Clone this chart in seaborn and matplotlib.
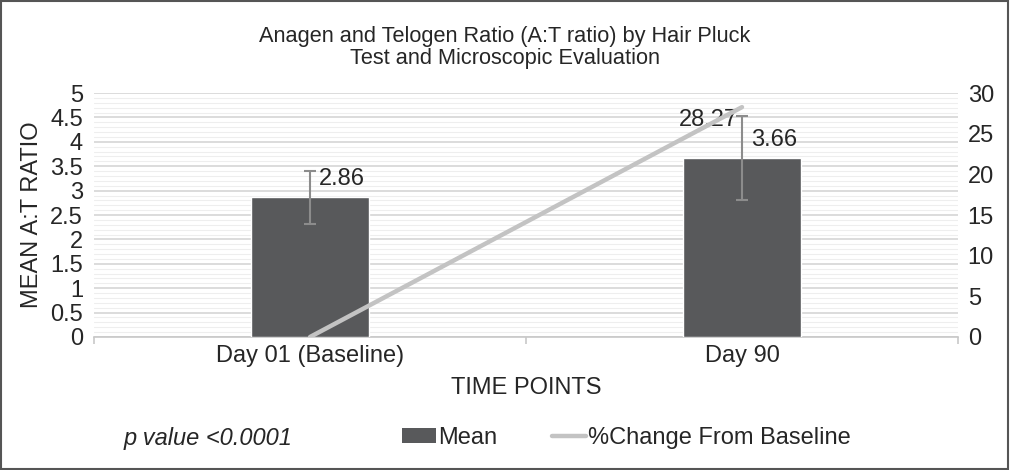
import matplotlib
matplotlib.use("Agg")
import matplotlib.pyplot as plt
import seaborn as sns
import pandas as pd
import numpy as np
from matplotlib.patches import Patch, Rectangle
from matplotlib.lines import Line2D
from matplotlib.ticker import MultipleLocator, FixedLocator

categories = ["Day 01 (Baseline)", "Day 90"]
mean_ratio = [2.86, 3.66]
mean_err = [0.54, 0.86]
pct_change = [0.0, 28.27]
left_ticks = [0, 0.5, 1, 1.5, 2, 2.5, 3, 3.5, 4, 4.5, 5]
left_ticklabels = ["0", "0.5", "1", "1.5", "2", "2.5", "3", "3.5", "4", "4.5", "5"]
right_ticks = [0, 5, 10, 15, 20, 25, 30]

sns.set_theme(style="white")
plt.rcParams['font.family'] = ['Liberation Sans', 'DejaVu Sans']
TXT = "#262626"
BAR = "#58595b"
LINEC = "#c3c3c3"
ERRC = "#8c8c8c"
FS = 17

fig = plt.figure(figsize=(10.1, 4.7), dpi=100)
ax = fig.add_axes([0.0931, 0.283, 0.8554, 0.519])

df = pd.DataFrame({"cat": categories, "mean": mean_ratio})
sns.barplot(data=df, x="cat", y="mean", color=BAR, width=0.273, saturation=1,
            errorbar=None, ax=ax, zorder=3)
ax.errorbar(range(len(categories)), mean_ratio, yerr=mean_err, fmt="none",
            ecolor=ERRC, elinewidth=1.5, capsize=4.5, capthick=1.5, zorder=4)

ax.set_xlim(-0.5, 1.5)
ax.set_ylim(0, 5)
ax.yaxis.set_major_locator(FixedLocator(left_ticks))
ax.set_yticklabels(left_ticklabels)
ax.yaxis.set_minor_locator(MultipleLocator(0.1))
ax.grid(axis="y", which="major", color="#d6d6d6", linewidth=1.2, zorder=0)
ax.grid(axis="y", which="minor", color="#eeeeee", linewidth=0.8, zorder=0)
ax.set_axisbelow(True)
for s in ["left", "right", "top"]:
    ax.spines[s].set_visible(False)
ax.spines["bottom"].set_color("#c8c8c8")
ax.spines["bottom"].set_linewidth(1.2)
ax.tick_params(axis="y", which="both", length=0, labelsize=FS, labelcolor=TXT, pad=8)
ax.tick_params(axis="x", which="major", length=0, labelsize=FS, labelcolor=TXT, pad=6)
ax.xaxis.set_minor_locator(FixedLocator([-0.5, 0.5, 1.5]))
ax.tick_params(axis="x", which="minor", length=5, width=1.2, color="#c8c8c8", bottom=True)
ax.set_xlabel("TIME POINTS", fontsize=FS, color=TXT, labelpad=7)
ax.set_ylabel("MEAN A:T RATIO", fontsize=FS, color=TXT, labelpad=5)

for i, v in enumerate(mean_ratio):
    ax.annotate(f"{v:.2f}", (i, v), xytext=(23, 13),
                textcoords="offset points", ha="center", va="center", fontsize=FS, color=TXT)

ax2 = ax.twinx()
ldf = pd.DataFrame({"x": [0, 1], "pct": pct_change})
sns.lineplot(data=ldf, x="x", y="pct", color=LINEC, linewidth=3.2, ax=ax2, zorder=5)
ax2.set_ylim(0, 30)
ax2.set_xlim(-0.5, 1.5)
ax2.yaxis.set_major_locator(FixedLocator(right_ticks))
ax2.set_ylabel("")
for s in ["left", "right", "top", "bottom"]:
    ax2.spines[s].set_visible(False)
ax2.tick_params(axis="y", length=0, labelsize=FS, labelcolor=TXT, pad=7)
ax2.annotate(f"{pct_change[1]:.2f}", (1, pct_change[1]), xytext=(-3, -1),
             textcoords="offset points", ha="right", va="top", fontsize=FS, color=TXT)

fig.text(0.5, 0.899, "Anagen and Telogen Ratio (A:T ratio) by Hair Pluck\nTest and Microscopic Evaluation",
         ha="center", va="center", fontsize=15.7, color=TXT, linespacing=1.05)

fig.text(0.122, 0.068, "p value <0.0001", fontsize=FS, style="italic", color=TXT,
         ha="left", va="center")
handles = [Patch(facecolor=BAR, edgecolor="none"),
           Line2D([0], [0], color=LINEC, linewidth=3.2)]
fig.legend(handles, ["Mean", "%Change From Baseline"], loc="center",
           bbox_to_anchor=(0.62, 0.068), ncol=2, frameon=False, fontsize=FS,
           handlelength=1.45, handleheight=0.6, handletextpad=0.1, columnspacing=2.3,
           labelcolor=TXT)

fig.add_artist(Rectangle((0.001, 0.002), 0.997, 0.996, transform=fig.transFigure,
                         fill=False, edgecolor="#555555", linewidth=1.5))

fig.savefig("out.png", dpi=100)
